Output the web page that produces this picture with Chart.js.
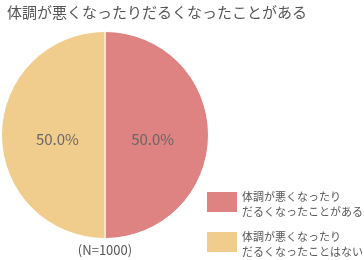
<!DOCTYPE html>
<html>
<head>
<meta charset="utf-8">
<script src="https://cdn.jsdelivr.net/npm/chart.js@4/dist/chart.umd.min.js"></script>
<style>
  html, body { margin: 0; padding: 0; background: #fff; }
  #wrap { position: relative; width: 364px; height: 260px; }
</style>
</head>
<body>
<div id="wrap"><canvas id="c" width="364" height="260"></canvas></div>
<script>
// chart data
var titleText = '体調が悪くなったりだるくなったことがある';
var categories = [
  ['体調が悪くなったり', 'だるくなったことがある'],
  ['体調が悪くなったり', 'だるくなったことはない']
];
var values = [50.0, 50.0];
var colors = ['#de8282', '#f0cd8c'];
var sampleNote = '(N=1000)';

var FONT = '"Noto Sans CJK JP", "Noto Sans", sans-serif';

// draws title, slice percentages, N note and the legend block
var annotate = {
  id: 'annotate',
  afterDraw: function(chart) {
    var ctx = chart.ctx;
    var meta = chart.getDatasetMeta(0);
    ctx.save();

    ctx.fillStyle = '#555';
    ctx.font = '15px ' + FONT;
    ctx.textAlign = 'left';
    ctx.textBaseline = 'middle';
    ctx.fillText(titleText, 7, 12);

    ctx.font = '15px ' + FONT;
    ctx.fillStyle = '#666';
    ctx.textAlign = 'center';
    meta.data.forEach(function(arc, i) {
      var mid = (arc.startAngle + arc.endAngle) / 2;
      var r = arc.outerRadius * 0.46;
      ctx.fillText(values[i].toFixed(1) + '%', arc.x + Math.cos(mid) * r, arc.y + Math.sin(mid) * r + 4);
    });

    var cx = meta.data[0].x;
    var bottom = meta.data[0].y + meta.data[0].outerRadius;
    ctx.font = '13px ' + FONT;
    ctx.fillStyle = '#555';
    ctx.fillText(sampleNote, cx, bottom + 12);

    // legend
    ctx.textAlign = 'left';
    ctx.font = '11px ' + FONT;
    categories.forEach(function(lines, i) {
      var y = 192 + i * 40;
      ctx.fillStyle = colors[i];
      ctx.fillRect(207, y, 30, 20);
      ctx.fillStyle = '#555';
      lines.forEach(function(t, k) {
        ctx.fillText(t, 242, y + 5 + k * 15);
      });
    });

    ctx.restore();
  }
};

new Chart(document.getElementById('c'), {
  type: 'pie',
  data: {
    labels: categories.map(function(l) { return l.join(''); }),
    datasets: [{
      data: values,
      backgroundColor: colors,
      borderColor: '#fff',
      borderWidth: 1
    }]
  },
  options: {
    responsive: false,
    animation: false,
    layout: { padding: { left: 1, right: 155, top: 31, bottom: 21 } },
    plugins: {
      legend: { display: false },
      tooltip: { enabled: false }
    }
  },
  plugins: [annotate]
});
</script>
</body>
</html>
